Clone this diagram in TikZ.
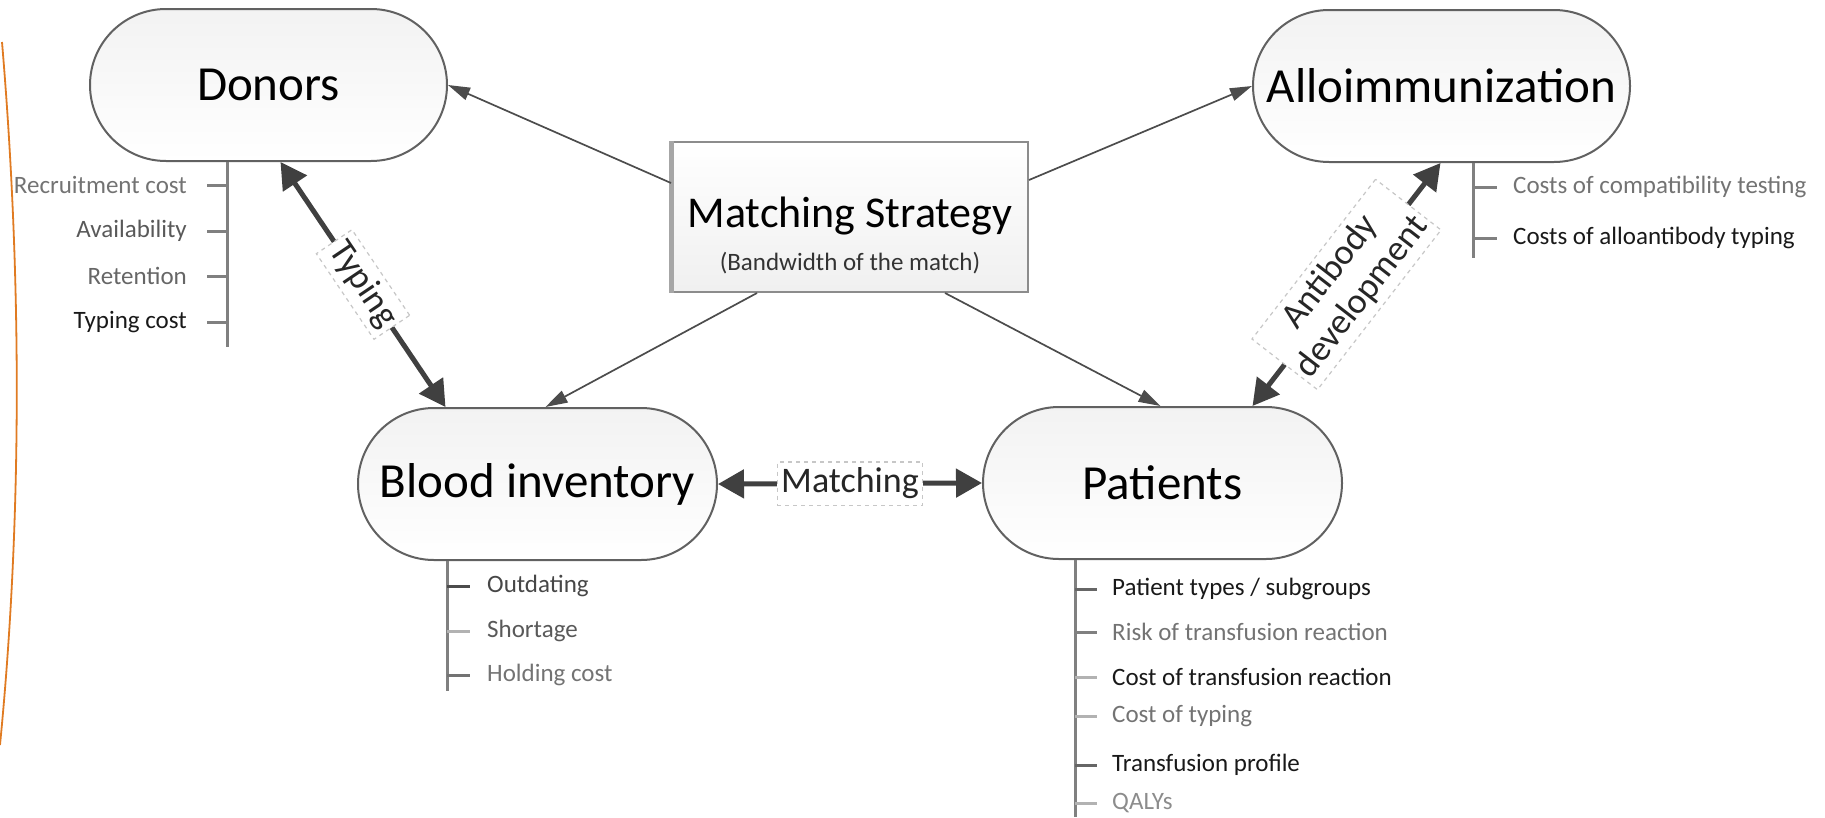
\documentclass[tikz,border=0pt]{standalone}
\usepackage{fontspec}
\setmainfont{Carlito}
\usetikzlibrary{shapes.misc,arrows.meta,calc}
\definecolor{orangeline}{HTML}{E07B22}
\begin{document}
\begin{tikzpicture}[x=1pt,y=-1pt,
  bignode/.style={rounded rectangle, draw=black!62, line width=2pt,
    top color=black!5, bottom color=white, minimum height=152pt,
    inner sep=0pt, font=\fontsize{49}{56}\selectfont},
  stratbox/.style={rectangle, draw=black!45, line width=2pt,
    top color=white, bottom color=black!6, minimum width=356pt, minimum height=150pt},
  thinarrow/.style={draw=black!70, line width=1.7pt, -{Triangle[length=22pt,width=13pt]}},
  thickarrow/.style={draw=black!75, line width=5pt,
    {Triangle[length=26pt,width=28pt]}-{Triangle[length=26pt,width=28pt]}},
  lab/.style={draw=black!22, dashed, dash pattern=on 4pt off 4pt, line width=1.2pt,
    fill=white, text=black!85, font=\fontsize{36}{38}\selectfont, inner xsep=4pt, inner ysep=6pt},
  item/.style={inner sep=0pt, font=\fontsize{25}{28}\selectfont},
  listline/.style={draw=black!50, line width=3pt},
  tickline/.style={draw=black!50, line width=3pt},
]
\useasboundingbox (0,0) rectangle (1825,817);

% orange curve at the left edge
\draw[orangeline, line width=1.8pt] (2,42) .. controls (22,280) and (22,520) .. (0,745);

% main nodes
\node[bignode, minimum width=357pt] (donors) at (268.5,85) {Donors};
\node[bignode, minimum width=377pt] (allo) at (1441.5,86) {Alloimmunization};
\node[bignode, minimum width=359pt] (blood) at (537.5,484) {Blood inventory};
\node[bignode, minimum width=359pt] (patients) at (1162.5,483) {Patients};

% matching strategy box
\node[stratbox] (ms) at (850,217) {};
\draw[black!35, line width=5pt] (ms.north west) -- (ms.south west);
\node[font=\fontsize{44}{50}\selectfont, inner sep=0pt] (mst) at (850,216) {Matching Strategy};
\node[font=\fontsize{25}{28}\selectfont, inner sep=0pt, text=black!80] (msb) at (850,263) {(Bandwidth of the match)};

% thin arrows from the strategy box
\draw[thinarrow] ($(ms.west)+(0,-34)$) -- (donors.east);
\draw[thinarrow] ($(ms.east)+(0,-37)$) -- (allo.west);
\draw[thinarrow] ($(ms.south)+(-93,0)$) -- ($(blood.north)+(8,0)$);
\draw[thinarrow] ($(ms.south)+(95,0)$) -- ($(patients.north)+(-2,0)$);

% thick double arrows with labels
\draw[thickarrow] ($(donors.south)+(12,0)$) -- ($(blood.north)+(-92,0)$)
  node[lab, midway, sloped] (typlab) {Typing};
\draw[thickarrow] ($(allo.south)+(-1,0)$) -- ($(patients.north)+(90,0)$)
  node[lab, midway, sloped, align=center, font=\fontsize{36}{40}\selectfont] (ablab) {Antibody\\development};
\draw[thickarrow] (blood.east) -- (patients.west)
  node[lab, midway] (matlab) {Matching};

% Donors list
\node[item, anchor=east, text=black!55] (d1) at (187,185) {Recruitment cost};
\node[item, anchor=east, text=black!65] (d2) at (187,231) {Availability};
\node[item, anchor=east, text=black!60] (d3) at (187,276) {Retention};
\node[item, anchor=east, text=black!90] (d4) at (187,322) {Typing cost};
\coordinate (dtop) at ($(donors.south)+(-41.5,0)$);
\draw[listline] (dtop) -- ++(0,185);
\foreach \n in {d1,d2,d3,d4} \draw[tickline] (dtop |- \n) -- ++(-20,0);

% Alloimmunization list
\node[item, anchor=west, text=black!55] (a1) at (1513,187) {Costs of compatibility testing};
\node[item, anchor=west, text=black!90] (a2) at (1513,238) {Costs of alloantibody typing};
\coordinate (atop) at ($(allo.south)+(31.5,0)$);
\draw[listline] (atop) -- ++(0,95);
\foreach \n in {a1,a2} \draw[tickline] (atop |- \n) -- ++(24,0);

% Blood inventory list
\node[item, anchor=west, text=black!72] (b1) at (487,586) {Outdating};
\node[item, anchor=west, text=black!65] (b2) at (487,631) {Shortage};
\node[item, anchor=west, text=black!55] (b3) at (487,675) {Holding cost};
\coordinate (btop) at ($(blood.south)+(-90.5,0)$);
\draw[listline] (btop) -- ++(0,130);
\draw[tickline, draw=black!70] (btop |- b1) -- ++(23,0);
\draw[tickline, draw=black!30] (btop |- b2) -- ++(23,0);
\draw[tickline, draw=black!55] (btop |- b3) -- ++(23,0);

% Patients list
\node[item, anchor=west, text=black!90] (p1) at (1112,589) {Patient types / subgroups};
\node[item, anchor=west, text=black!55] (p2) at (1112,632) {Risk of transfusion reaction};
\node[item, anchor=west, text=black!90] (p3) at (1112,677) {Cost of transfusion reaction};
\node[item, anchor=west, text=black!55] (p4) at (1112,716) {Cost of typing};
\node[item, anchor=west, text=black!90] (p5) at (1112,765) {Transfusion profile};
\node[item, anchor=west, text=black!45] (p6) at (1112,803) {QALYs};
\coordinate (ptop) at ($(patients.south)+(-87.5,0)$);
\draw[listline] (ptop) -- ++(0,257);
\draw[tickline, draw=black!60] (ptop |- p1) -- ++(22,0);
\draw[tickline, draw=black!50] (ptop |- p2) -- ++(22,0);
\draw[tickline, draw=black!30] (ptop |- p3) -- ++(22,0);
\draw[tickline, draw=black!30] (ptop |- p4) -- ++(22,0);
\draw[tickline, draw=black!60] (ptop |- p5) -- ++(22,0);
\draw[tickline, draw=black!30] (ptop |- p6) -- ++(22,0);
\end{tikzpicture}
\end{document}
